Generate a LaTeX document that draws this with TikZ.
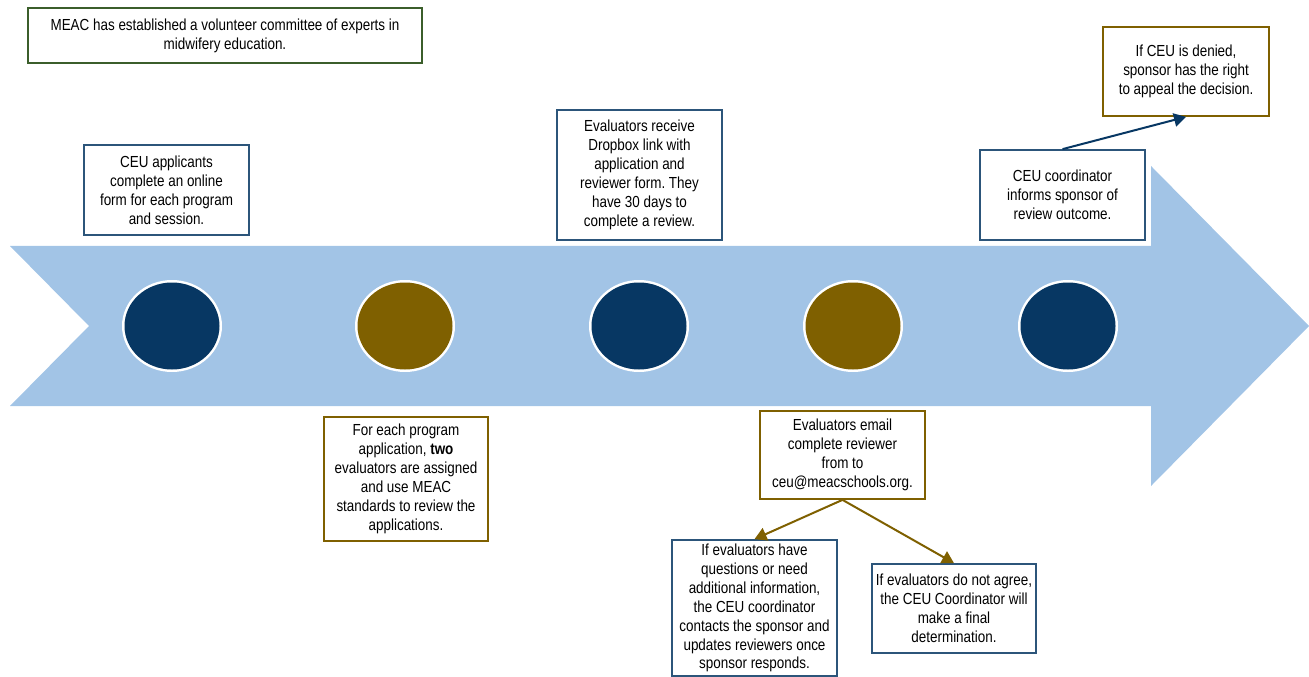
\documentclass[tikz,border=0pt]{standalone}
\usepackage{fontspec}
\setmainfont{Liberation Sans}[FakeStretch=0.84]
\usetikzlibrary{arrows.meta}
\definecolor{band}{HTML}{A2C4E6}
\definecolor{navy}{HTML}{073763}
\definecolor{olive}{HTML}{7F6000}
\definecolor{leaf}{HTML}{3B5E2B}

\begin{document}
\begin{tikzpicture}[x=0.75pt,y=-0.75pt,
	box/.style={draw,line width=1.3pt,fill=white,align=center,inner sep=2pt,
		font=\fontsize{12}{14.2}\selectfont,text=black},
	bluebox/.style={box,draw=navy!85!white},
	goldbox/.style={box,draw=olive},
	link/.style={line width=1.5pt,-{Triangle[length=9pt,width=10pt]}}]
	\useasboundingbox (0,0) rectangle (1309,677);
	% the big arrow
	\fill[band] (10,246) -- (1151,246) -- (1151,166) -- (1309,326) -- (1151,486)
		-- (1151,406) -- (10,406) -- (89,326) -- cycle;
	% steps
	\fill[white] (172,326) ellipse (50 and 46);
	\fill[navy] (172,326) ellipse (47.5 and 43.5);
	\fill[white] (405,326) ellipse (50 and 46);
	\fill[olive] (405,326) ellipse (47.5 and 43.5);
	\fill[white] (639,326) ellipse (50 and 46);
	\fill[navy] (639,326) ellipse (47.5 and 43.5);
	\fill[white] (853,326) ellipse (50 and 46);
	\fill[olive] (853,326) ellipse (47.5 and 43.5);
	\fill[white] (1068,326) ellipse (50 and 46);
	\fill[navy] (1068,326) ellipse (47.5 and 43.5);
	% text boxes
	\node[box,draw=leaf,minimum width=394*0.75pt,minimum height=55*0.75pt] (b1) at (225,35.5)
		{MEAC has established a volunteer committee of experts in\\ midwifery education.};
	\node[bluebox,minimum width=165*0.75pt,minimum height=90*0.75pt] (b2) at (166.5,190)
		{CEU applicants\\ complete an online\\ form for each program\\ and session.};
	\node[bluebox,minimum width=165*0.75pt,minimum height=130*0.75pt] (b3) at (639.5,175)
		{Evaluators receive\\ Dropbox link with\\ application and\\ reviewer form.\ They\\ have 30 days to\\ complete a review.};
	\node[bluebox,minimum width=165*0.75pt,minimum height=90*0.75pt] (b4) at (1062.5,195)
		{CEU coordinator\\ informs sponsor of\\ review outcome.};
	\node[goldbox,minimum width=166*0.75pt,minimum height=89*0.75pt] (b5) at (1186,71.5)
		{If CEU is denied,\\ sponsor has the right\\ to appeal the decision.};
	\node[goldbox,minimum width=164*0.75pt,minimum height=124*0.75pt] (b6) at (406,479)
		{For each program\\ application, \textbf{two}\\ evaluators are assigned\\ and use MEAC\\ standards to review the\\ applications.};
	\node[goldbox,minimum width=165*0.75pt,minimum height=88*0.75pt] (b7) at (842.5,455)
		{Evaluators email\\ complete reviewer\\ from to\\ ceu@meacschools.org.};
	\node[bluebox,minimum width=165*0.75pt,minimum height=136*0.75pt] (b8) at (754.5,608)
		{If evaluators have\\ questions or need\\ additional information,\\ the CEU coordinator\\ contacts the sponsor and\\ updates reviewers once\\ sponsor responds.};
	\node[bluebox,minimum width=164*0.75pt,minimum height=89*0.75pt] (b9) at (954,608.5)
		{If evaluators do not agree,\\ the CEU Coordinator will\\ make a final\\ determination.};
	% connectors
	\draw[link,navy] (b4.north) -- (b5.south);
	\draw[link,olive] (b7.south) -- (b8.north);
	\draw[link,olive] (b7.south) -- (b9.north);
\end{tikzpicture}
\end{document}
